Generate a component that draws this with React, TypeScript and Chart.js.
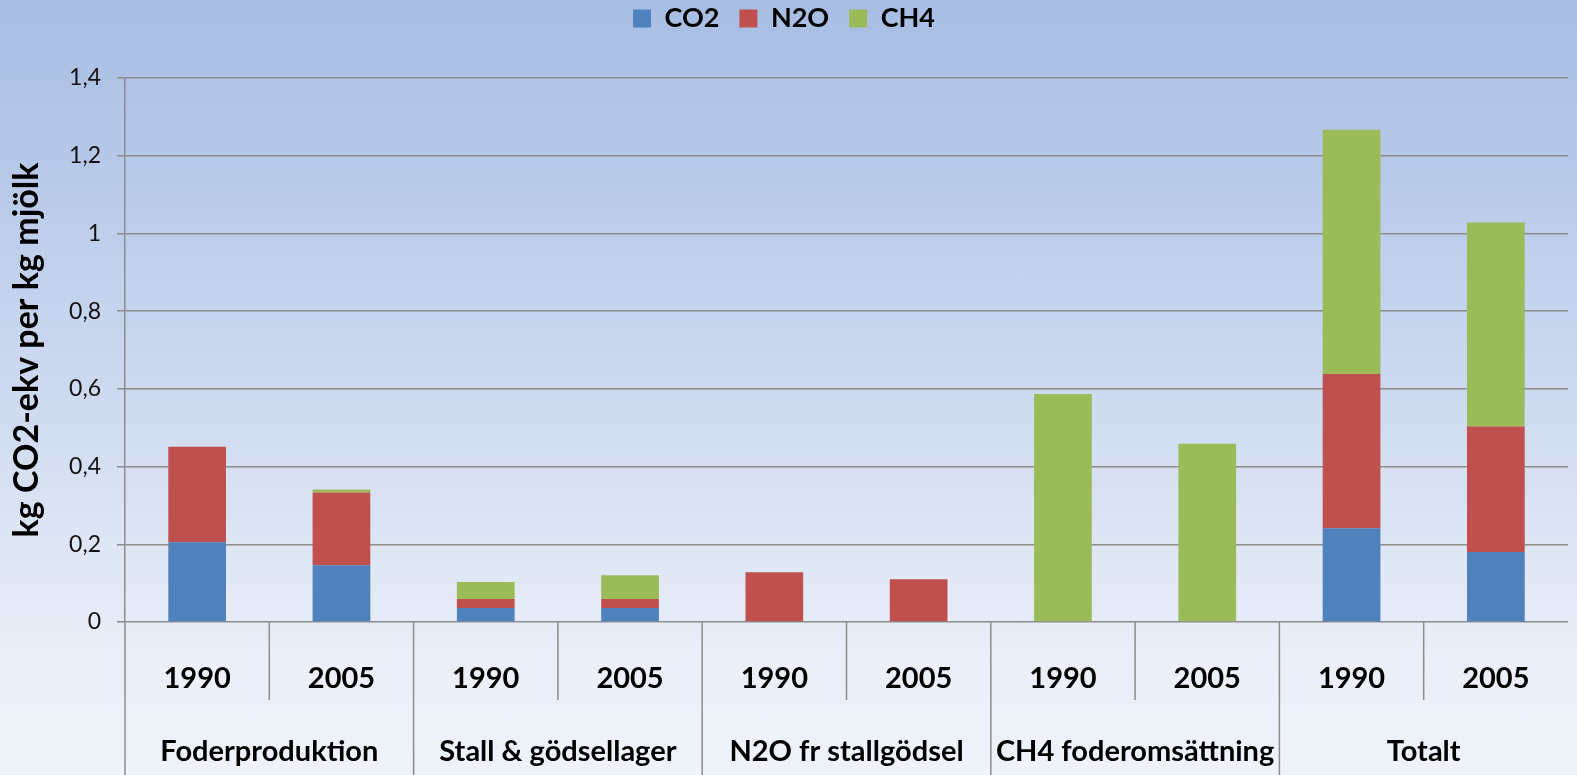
import React, { useEffect, useRef } from "react";
import { Chart, registerables } from "chart.js";

Chart.register(...registerables);

const years = ["1990", "2005", "1990", "2005", "1990", "2005", "1990", "2005", "1990", "2005"];
const groups = ["Foderproduktion", "Stall & gödsellager", "N2O fr stallgödsel", "CH4 foderomsättning", "Totalt"];
const co2 = [0.205, 0.146, 0.036, 0.036, 0, 0, 0, 0, 0.241, 0.18];
const n2o = [0.246, 0.187, 0.023, 0.023, 0.128, 0.11, 0, 0, 0.397, 0.323];
const ch4 = [0, 0.008, 0.044, 0.061, 0, 0, 0.587, 0.459, 0.629, 0.525];
const yTicks = [0, 0.2, 0.4, 0.6, 0.8, 1, 1.2, 1.4];

const FONT = "Lato, 'Open Sans', sans-serif";
const LINE = "#8c8c8c";

const groupPlugin = {
  id: "groupAxis",
  afterDraw(chart: any) {
    const { ctx, chartArea } = chart;
    const xs = chart.scales.x;
    const H = chart.height;
    const n = years.length;
    ctx.save();
    ctx.strokeStyle = LINE;
    ctx.lineWidth = 1.5;
    for (let i = 0; i < n; i++) {
      let x: number;
      if (i === 0) x = chartArea.left;
      else x = (xs.getPixelForValue(i - 1) + xs.getPixelForValue(i)) / 2;
      const bottom = i % 2 === 0 ? H : chartArea.bottom + 78;
      ctx.beginPath();
      ctx.moveTo(x, chartArea.bottom);
      ctx.lineTo(x, bottom);
      ctx.stroke();
    }
    ctx.fillStyle = "#000";
    ctx.font = `bold 29px ${FONT}`;
    ctx.textAlign = "center";
    ctx.textBaseline = "middle";
    groups.forEach((g, gi) => {
      const cx = (xs.getPixelForValue(2 * gi) + xs.getPixelForValue(2 * gi + 1)) / 2;
      ctx.fillText(g, cx, 752);
    });
    ctx.restore();
  },
};

export default function App() {
  const ref = useRef<HTMLCanvasElement>(null);
  useEffect(() => {
    document.body.style.margin = "0";
    const chart = new Chart(ref.current!, {
      type: "bar",
      data: {
        labels: years,
        datasets: [
          { label: "CO2", data: co2, backgroundColor: "#4f81bd" },
          { label: "N2O", data: n2o, backgroundColor: "#c0504d" },
          { label: "CH4", data: ch4, backgroundColor: "#9bbb59" },
        ],
      },
      options: {
        animation: false,
        responsive: true,
        maintainAspectRatio: false,
        datasets: { bar: { barPercentage: 0.4, categoryPercentage: 1 } },
        layout: { padding: { top: -15, right: 9, left: 0, bottom: 0 } },
        plugins: {
          legend: {
            position: "top",
            weight: 1000,
            labels: {
              boxWidth: 18,
              boxHeight: 18,
              padding: 20,
              color: "#000",
              font: { family: FONT, size: 27, weight: "bold" },
            },
          },
          subtitle: {
            display: true,
            text: " ",
            position: "top",
            weight: 500,
            font: { size: 10 },
            padding: { top: 12, bottom: 12 },
          },
          tooltip: { enabled: false },
        },
        scales: {
          x: {
            type: "category",
            stacked: true,
            grid: { display: false, drawTicks: false },
            border: { display: false },
            ticks: {
              color: "#000",
              padding: 39,
              font: { family: FONT, size: 29, weight: "bold" },
              maxRotation: 0,
              autoSkip: false,
            },
            afterFit(scale: any) {
              scale.height = 153;
            },
          },
          y: {
            stacked: true,
            min: 0,
            max: 1.4,
            afterBuildTicks(scale: any) {
              scale.ticks = yTicks.map((v) => ({ value: v }));
            },
            grid: { color: LINE, lineWidth: 1.5, tickLength: 8 },
            border: { color: LINE, width: 1.5 },
            ticks: {
              color: "#111",
              padding: 16,
              font: { family: FONT, size: 23 },
              callback: (v: any) => String(Math.round(Number(v) * 10) / 10).replace(".", ","),
            },
            title: {
              display: true,
              text: "kg CO2-ekv per kg mjölk",
              color: "#000",
              font: { family: FONT, size: 34, weight: "bold" },
              padding: { top: 7, bottom: 0 },
            },
            afterFit(scale: any) {
              scale.width = 125;
            },
          },
        },
      },
      plugins: [groupPlugin],
    });
    return () => chart.destroy();
  }, []);
  return (
    <div
      style={{
        position: "absolute",
        left: 0,
        top: 0,
        width: 1577,
        height: 775,
        background: "linear-gradient(to bottom, #a7bde3 0%, #c9d6ee 45%, #eaeff8 85%, #eef2f9 100%)",
      }}
    >
      <canvas ref={ref} />
    </div>
  );
}
